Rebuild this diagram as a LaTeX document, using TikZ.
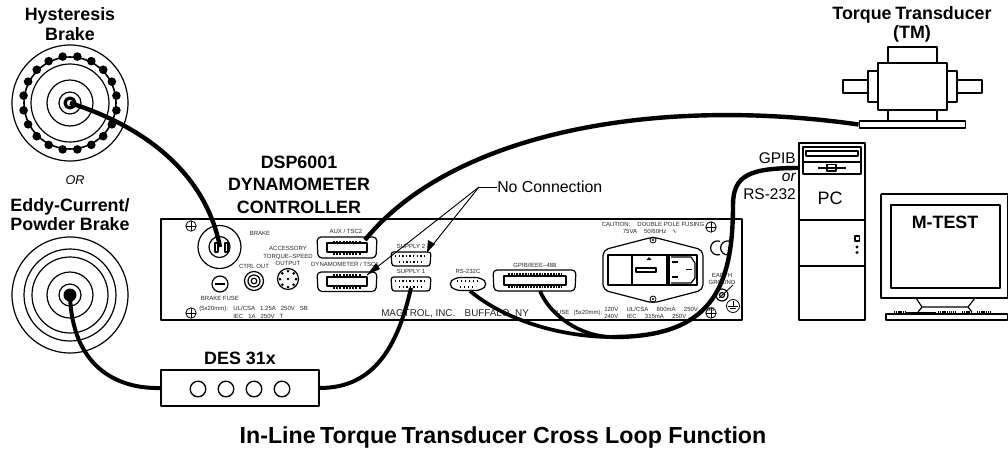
\documentclass[tikz,border=0pt]{standalone}
\usepackage{fontspec}
\setmainfont{Liberation Sans}
\newfontfamily\symfont{DejaVu Sans}
\begin{document}
\begin{tikzpicture}[x=0.75pt,y=-0.75pt,line join=round,
  ttl/.style={font=\fontsize{13.4}{15}\selectfont\bfseries,inner sep=0,align=center},
  sm/.style={font=\fontsize{4.5}{6}\selectfont,inner sep=0,align=center,text=black!85},
  lab/.style={font=\fontsize{11.6}{13}\selectfont,inner sep=0},
  ln/.style={draw=black,line width=0.9pt},
  thn/.style={draw=black,line width=0.6pt},
  cable/.style={draw=black,line width=3.3pt},
  lead/.style={draw=black,line width=0.7pt},
  tip/.style={fill=black}]
\useasboundingbox (0,0) rectangle (1008,454);
\fill[white] (0,0) rectangle (1008,454);

% --- labels
\node[ttl] (t1) at (70,24) {Hysteresis\\[-0.5pt]Brake};
\node[font=\fontsize{9.5}{11}\selectfont\itshape,inner sep=0] (tor) at (75,180) {OR};
\node[ttl] (t2) at (70,214.5) {Eddy-Current/\\[-0.5pt]Powder Brake};
\node[ttl] (t3) at (299,184.5) {DSP6001\\[1.8pt]DYNAMOMETER\\[1.8pt]CONTROLLER};
\node[ttl] (t4) at (240,358) {DES 31x};
\node[ttl] (t5) at (912,24.5) {Torque\hspace{-1pt} Transducer\\[-0.3pt](TM)};
\node[ttl,font=\fontsize{17.4}{19}\selectfont\bfseries] (t6) at (503,437) {In-Line\hspace{-1.5pt} Torque\hspace{-1.5pt} Transducer Cross Loop Function};
\node[lab,font=\fontsize{11.9}{13}\selectfont,anchor=west] (nc) at (497,187) {No Connection};

% --- hysteresis brake
\coordinate (hc) at (70,103);
\foreach \r in {58,39,23,11} \draw[ln] (hc) circle[radius=\r];
\draw[line width=1.2pt] (hc) circle[radius=46];
\foreach \a in {9,27,...,351} \fill (hc) ++(\a:47) circle[radius=4.3];
\fill[white] (hc) circle[radius=7];
\draw[line width=2.4pt] (hc) circle[radius=5];

% --- eddy current brake
\coordinate (ec) at (70,295);
\foreach \r in {58,46,38,23,11} \draw[ln] (ec) circle[radius=\r];
\fill (ec) circle[radius=6.5];

% --- panel
\draw[draw=black,line width=1.5pt] (161,219) rectangle (742,320);
\foreach \p/\r in {191/226,191/313,711/227,711/313} {
  \draw[thn] (\p,\r) circle[radius=5.2];
  \draw[thn] (\p-5.2,\r) -- (\p+5.2,\r) (\p,\r-5.2) -- (\p,\r+5.2);
}
% brake socket
\draw[ln] (219.5,247) circle[radius=21.5];
\draw[ln] (219.5,247) circle[radius=10.5];
\draw[ln] (215,243) rectangle (218,252);
\draw[ln] (225,243) rectangle (228,252);
% fuse
\draw[ln] (220,284) circle[radius=8];
\draw[ln] (215,284) -- (225,284);
% ctrl out
\draw[ln] (254,281) circle[radius=9.5];
\draw[ln] (254,281) circle[radius=6];
\draw[ln] (254,281) circle[radius=2.8];
% accessory
\draw[ln] (288,279) circle[radius=10.5];
\foreach \a in {0,45,...,315} \fill (288,279) ++(\a:8) circle[radius=1.5];
\fill (288,279) circle[radius=1.3];
% AUX connector
\draw[ln,rounded corners=3pt] (317,237) -- (377,237) -- (376,258) -- (318,258) -- cycle;
\draw[ln] (327,243) rectangle (367,252);
\draw[line width=1.8pt,dash pattern=on 1.5pt off 0.9pt] (333,242) -- (361,242) (333,253.5) -- (361,253.5);
% DYN connector
\coordinate (dynt) at (367,275);
\draw[ln,rounded corners=3pt] (317,272) -- (377,272) -- (376,291.5) -- (318,291.5) -- cycle;
\draw[ln] (327,277) rectangle (367,286);
\draw[line width=1.8pt,dash pattern=on 1.5pt off 0.9pt] (333,275.5) -- (361,275.5) (333,287.5) -- (361,287.5);
% Supply 2
\draw[ln,rounded corners=2pt] (391,252) -- (431,252) -- (430,266) -- (392,266) -- cycle;
\draw[line width=1.3pt,dash pattern=on 1.1pt off 1.6pt] (395,256) -- (427,256) (399,262) -- (423,262);
% Supply 1
\draw[ln,rounded corners=2pt] (391,277) -- (431,277) -- (430,291) -- (392,291) -- cycle;
\draw[line width=1.3pt,dash pattern=on 1.1pt off 1.6pt] (395,281) -- (427,281) (399,287) -- (423,287);
% RS-232
\draw[ln,rounded corners=4pt] (455,277.5) -- (481,277.5) -- (488,284) -- (481,290.5) -- (455,290.5) -- (448,284) -- cycle;
\draw[line width=1.3pt,dash pattern=on 1.1pt off 1.9pt] (457,281) -- (479,281) (460,287) -- (476,287);
% GPIB
\draw[ln,rounded corners=3pt] (493,270) -- (576,270) -- (575,291) -- (494,291) -- cycle;
\draw[ln] (504,276) rectangle (566,285);
\draw[line width=1.8pt,dash pattern=on 1.3pt off 0.8pt] (508,274.5) -- (562,274.5) (508,287) -- (562,287);
% power module
\draw[ln,rounded corners=4pt] (653,237) -- (703,250) -- (703,290) -- (653,303) -- (603,290) -- (603,250) -- cycle;
\draw[ln] (608,255) rectangle (697,285);
\draw[ln] (632,255) -- (632,284) (667,255) -- (667,284) (669,255) -- (669,284);
\draw[ln] (636,268) rectangle (656,272);
\fill (649,257) -- (651.5,260) -- (646.5,260) -- cycle;
\draw[ln] (671,257) -- (691,257) -- (695,263) -- (695,278) -- (691,283) -- (671,283);
\draw[ln] (672,262) -- (678,262) (672,277) -- (678,277) (686,269.5) -- (692,269.5);
\draw[thn] (653,240) circle[radius=3];
\fill (653,240) circle[radius=1.2];
\draw[thn] (653,299) circle[radius=3];
\fill (653,299) circle[radius=1.2];
% CE-like and ground
\draw[ln] (720,254.5) arc[start angle=70,end angle=290,radius=7];
\draw[ln] (730,254.5) arc[start angle=70,end angle=290,radius=7];
\draw[ln] (722,295) circle[radius=6];
\draw[ln] (722,295) circle[radius=2.5];
\draw[thn] (719,298) -- (733,285);
\draw[thn] (733,306) circle[radius=6.5];
\draw[thn] (733,301) -- (733,306) (728,306) -- (738,306) (730,308.5) -- (736,308.5);

% panel texts
\node[sm] (p1) at (260,233.5) {BRAKE};
\node[sm] (p2) at (288,256) {ACCESSORY\\[-0.3pt]TORQUE–SPEED\\[-0.3pt]OUTPUT};
\node[sm] (p3) at (254,266.5) {CTRL OUT};
\node[sm] (p4) at (220,298.5) {BRAKE FUSE};
\node[sm,anchor=west] (p5) at (199,309) {(5x20mm):\hspace{2.5pt} UL/CSA\hspace{2.5pt} 1.25A\hspace{2.5pt} 250V\hspace{2.5pt} SB};
\node[sm,anchor=west] (p6) at (233,316) {IEC\hspace{2.5pt} 1A\hspace{2.5pt} 250V\hspace{2.5pt} T};
\node[sm] (p7) at (346,231.5) {AUX / TSC2};
\node[sm] (p8) at (345,264.5) {DYNAMOMETER / TSC1};
\node[sm] (p9) at (411,246.5) {SUPPLY 2};
\node[sm] (p10) at (411,271.5) {SUPPLY 1};
\node[sm] (p11) at (468,271.5) {RS-232C};
\node[sm] (p12) at (535,265.5) {GPIB/IEEE–488};
\node[sm] (p13) at (653,224.5) {CAUTION:\hspace{4pt} DOUBLE POLE FUSING};
\node[sm] (p14) at (650,231.5) {75VA\hspace{4pt} 50/60Hz\hspace{3pt} {\symfont ∿}};
\node[sm,anchor=west,font=\fontsize{7.4}{9}\selectfont] (p15) at (381,314) {MAGTROL, INC.\hspace{5pt} BUFFALO, NY};
\node[sm,anchor=west] (p16) at (553,313) {FUSE\hspace{2pt} (5x20mm):};
\node[sm,anchor=west] (p17) at (604,309) {120V\hspace{5pt} UL/CSA\hspace{5pt} 800mA\hspace{5pt} 250V\hspace{5pt} SB};
\node[sm,anchor=west] (p18) at (604,316) {240V\hspace{5pt} IEC\hspace{5pt} 315mA\hspace{5pt} 250V\hspace{5pt} T};
\node[sm] (p19) at (722,279) {EARTH\\[-0.3pt]GROUND};

% --- DES box
\node[draw=black,line width=1.2pt,minimum width=118.5pt,minimum height=27pt,inner sep=0] (des) at (240,388) {};
\foreach \x in {198,226,254,282} \draw[line width=1pt] (\x,389) circle[radius=7.8];

% --- torque transducer
\draw[line width=1.1pt] (888,63) -- (888,47) -- (937,47) -- (937,63);
\draw[line width=1.1pt] (878,63) rectangle (947,110);
\draw[line width=1.1pt] (868,71) rectangle (878,102);
\draw[line width=1.1pt] (947,71) rectangle (957,102);
\draw[line width=1.1pt] (868,80) -- (843,80) -- (843,93) -- (868,93);
\draw[line width=1.1pt] (957,80) -- (982,80) -- (982,93) -- (957,93);
\draw[line width=1.1pt] (888,110) -- (888,121) (937,110) -- (937,121);
\node[draw=black,line width=0.9pt,minimum width=80pt,minimum height=5.2pt,inner sep=0] (base) at (912.5,124.5) {};

% --- PC
\node[draw=black,line width=0.9pt,minimum width=49.5pt,minimum height=132.7pt,inner sep=0] (pc) at (832,231.5) {};
\draw[ln] (799,220) -- (865,220) (799,266) -- (865,266);
\draw[ln] (803,147) rectangle (861,174);
\draw[ln] (803,162) -- (861,162);
\draw[ln] (806,151) rectangle (858,156);
\draw[ln] (818,168) -- (846,168);
\draw[ln] (827,164.5) rectangle (836,171);
\node[lab,font=\fontsize{13.5}{15}\selectfont] (pclab) at (830,198) {PC};
\draw[line width=1.2pt] (855,236) rectangle (859.5,241);
\fill (857,247) circle[radius=1.7] (857,252.5) circle[radius=1.7];
\node[lab,anchor=east] (g1) at (796,158) {GPIB};
\node[lab,anchor=east,font=\fontsize{11.6}{13}\selectfont\itshape] (g2) at (796,177) {or};
\node[lab,anchor=east] (g3) at (796,194) {RS-232};

% --- monitor
\draw[line width=1pt] (881,194) -- (1008,194) (881,194) -- (881,298) -- (1008,298);
\draw[line width=1pt] (1007.6,194) -- (1007.6,298);
\draw[ln] (891,205) rectangle (1000,288);
\node[ttl] (mt) at (945,222) {M-TEST};
\draw[ln] (916,298) -- (922,307) -- (918,312) (975,298) -- (968,307) -- (972,312) (922,307) -- (968,307);
\draw[ln] (886,314) rectangle (1007.5,320);
\draw[line width=2pt,dash pattern=on 1pt off 0.6pt] (894,312.3) -- (906,312.3);
\draw[line width=1.2pt] (906,312.3) -- (936,312.3);
\draw[line width=2pt,dash pattern=on 1pt off 0.6pt] (938,312.3) -- (956,312.3) (962,312.3) -- (971,312.3) (977,312.3) -- (991,312.3);

% --- cables
\coordinate (bs) at (220,247);
\draw[cable] (hc) .. controls (140,125) and (205,170) .. (bs);
\draw[cable,line width=3pt] (ec) .. controls (72,365) and (115,389) .. (des.west);
\coordinate (s1) at (411,288);
\draw[cable,line width=3pt] (des.east) .. controls (375,388) and (398,345) .. (s1);
\coordinate (aux) at (365,240);
\draw[cable] (aux) .. controls (450,135) and (650,95) .. (base.west);
\coordinate (rs) at (470,291);
\coordinate (gp) at (540,291);
\coordinate (jn) at (613,337);
\coordinate (bend) at (733,205);
\draw[cable,line width=2.8pt] (rs) .. controls (505,320) and (560,337) .. (jn);
\draw[cable,line width=2.8pt] (gp) .. controls (550,315) and (580,337) .. (jn);
\draw[cable] (pc.west |- 168,168) .. controls (750,168) and (733,175) .. (bend)
  .. controls (733,290) and (710,337) .. (jn);

% --- no connection leaders
\coordinate (ncj) at (479,187);
\coordinate (s2t) at (427,252);
\draw[lead] (nc.west) -- (ncj);
\draw[lead] (ncj) -- (dynt);
\draw[lead] (ncj) -- (s2t);
\fill (dynt) -- (376,263) -- (380,269) -- cycle;
\fill (s2t) -- (428,240) -- (435,244) -- cycle;
\end{tikzpicture}
\end{document}
